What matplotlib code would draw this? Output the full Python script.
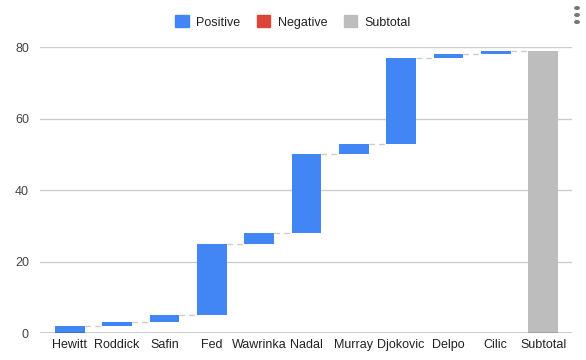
import matplotlib
matplotlib.use("Agg")
import matplotlib.pyplot as plt
from matplotlib.patches import Patch
import numpy as np

# Waterfall data (grand slam titles)
players = ["Hewitt", "Roddick", "Safin", "Fed", "Wawrinka", "Nadal",
           "Murray", "Djokovic", "Delpo", "Cilic"]
titles = [2, 1, 2, 20, 3, 22, 3, 24, 1, 1]
subtotal_label = "Subtotal"

BLUE = "#4285F4"
RED = "#DB4437"
GREY = "#BDBDBD"

plt.rcParams["font.family"] = ["Liberation Sans", "DejaVu Sans"]

fig = plt.figure(figsize=(5.86, 3.6), dpi=100)
ax = fig.add_axes([40 / 586, 27 / 360, 532 / 586, 286 / 360])

ends = np.cumsum(titles)
starts = ends - np.array(titles)
x = np.arange(len(players))
width = 0.63

colors = [BLUE if v >= 0 else RED for v in titles]
ax.bar(x, titles, bottom=starts, width=width, color=colors, zorder=3)
ax.bar(len(players), ends[-1], width=width, color=GREY, zorder=3)

# dashed connectors between consecutive bars
for i, level in enumerate(ends):
    ax.plot([i + width / 2, i + 1 - width / 2], [level, level],
            color="#cccccc", lw=1, ls=(0, (4, 3)), zorder=2)

labels = players + [subtotal_label]
ax.set_xticks(np.arange(len(labels)))
ax.set_xticklabels(labels, fontsize=9, color="#222222")
ax.set_xlim(-0.63, len(labels) - 1 + 0.61)
ax.set_ylim(0, 80)
ax.set_yticks([0, 20, 40, 60, 80])
ax.tick_params(axis="y", labelsize=9, labelcolor="#444444", length=0, pad=8)
ax.tick_params(axis="x", length=0, pad=4)
ax.grid(axis="y", color="#cccccc", lw=1, zorder=0)
ax.axhline(0, color="#333333", lw=1, zorder=4)
for s in ax.spines.values():
    s.set_visible(False)

handles = [Patch(color=BLUE, label="Positive"),
           Patch(color=RED, label="Negative"),
           Patch(color=GREY, label="Subtotal")]
fig.legend(handles=handles, loc="center", bbox_to_anchor=(0.5, 1 - 22 / 360),
           ncol=3, frameon=False, fontsize=9, handlelength=1.1,
           handleheight=1.1, columnspacing=1.3, handletextpad=0.6,
           labelcolor="#222222")

# menu dots at top right
for yy in (8, 15, 22):
    fig.patches.append(plt.Circle((577 / 586, 1 - yy / 360), 2.2 / 586,
                                  transform=fig.transFigure, color="#777777"))

fig.savefig("out.png", dpi=100)
